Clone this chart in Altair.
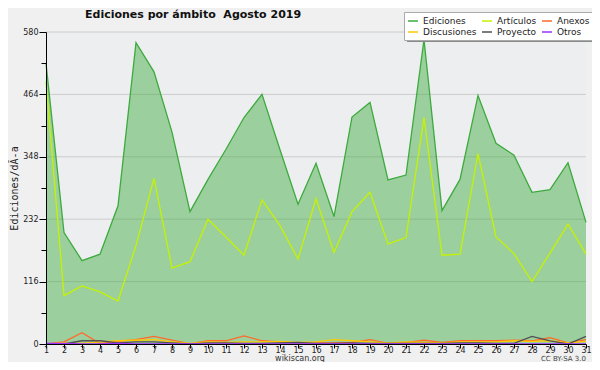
import altair as alt
import pandas as pd

days = list(range(1, 32))
ediciones = [522, 207, 155, 167, 257, 560, 506, 394, 246, 306, 362, 421, 464, 361, 260, 336,
             237, 422, 449, 305, 314, 566, 248, 306, 462, 373, 351, 282, 287, 337, 226]
articulos = [488, 90, 108, 97, 80, 183, 308, 141, 153, 232, 199, 165, 268, 220, 158, 270,
             170, 246, 282, 186, 198, 421, 165, 167, 354, 199, 168, 116, 169, 223, 167]
anexos = [0, 4, 21, 1, 5, 8, 14, 7, 0, 6, 6, 15, 6, 4, 2, 2, 2, 3, 8, 1, 3, 7, 3, 6, 6, 6, 7, 6, 12, 2, 8]
discusiones = [0, 2, 1, 4, 6, 7, 8, 4, 1, 4, 3, 4, 4, 5, 3, 4, 8, 6, 4, 2, 4, 3, 2, 4, 4, 4, 6, 5, 6, 2, 5]
proyecto = [0, 0, 6, 6, 2, 4, 4, 2, 0, 2, 2, 1, 1, 2, 3, 1, 1, 2, 1, 1, 1, 1, 1, 2, 2, 1, 1, 14, 6, 0, 14]
otros = [1, 1, 0, 0, 1, 0, 0, 0, 0, 0, 0, 0, 0, 0, 0, 0, 0, 0, 0, 0, 0, 0, 0, 0, 0, 0, 0, 0, 0, 0, 0]

series_names = ["Ediciones", "Artículos", "Anexos", "Discusiones", "Proyecto", "Otros"]
series_colors = ["#3DAA3D", "#C6F200", "#FF6A2A", "#FFC800", "#505050", "#9B30FF"]
series_values = [ediciones, articulos, anexos, discusiones, proyecto, otros]

grid_values = [116, 232, 348, 464, 580]
y_ticks = list(range(0, 581, 58))

title_text = "Ediciones por ámbito\u00a0 Agosto 2019"
y_title = "Ediciones/dÃ-a"
footer = "wikiscan.org"
license_text = "CC BY-SA 3.0"

rows = []
for name, vals in zip(series_names, series_values):
    for d, v in zip(days, vals):
        rows.append({"day": d, "value": v, "serie": name})
long_df = pd.DataFrame(rows)
ed_df = pd.DataFrame({"day": days, "value": ediciones})
grid_df = pd.DataFrame({"g": grid_values})

x_scale = alt.Scale(domain=[1, 31], nice=False, zero=False)
y_scale = alt.Scale(domain=[0, 580], nice=False)

FONT = "DejaVu Sans"
W = 540

y_axis = alt.Axis(
    values=y_ticks,
    labelExpr="datum.value % 116 === 0 ? datum.label : ''",
    tickSize={"condition": {"test": "datum.value % 116 === 0", "value": 7}, "value": 5},
    tickColor="black",
    domainColor="black",
    labelFont=FONT,
    labelFontSize=8,
    labelColor="#222222",
    labelPadding=1,
    grid=False,
    title=y_title,
    titleFont="DejaVu Sans Mono",
    titleFontSize=10,
    titleFontWeight="normal",
    titleColor="#222222",
    titleAngle=270,
    titleBaseline="alphabetic",
    titleX=-29,
    titleY=156,
    zindex=1,
)
x_axis = alt.Axis(
    values=days,
    format="d",
    tickSize=4,
    tickColor="black",
    domainColor="black",
    labelFont=FONT,
    labelFontSize=8,
    labelColor="#222222",
    labelPadding=-2,
    labelFlush=False,
    labelOverlap=False,
    grid=False,
    title=None,
    zindex=1,
)

grid = alt.Chart(grid_df).mark_rule(color="#CCCCCC", strokeWidth=1).encode(
    y=alt.Y("g:Q", scale=y_scale, axis=y_axis)
)

area = alt.Chart(ed_df).mark_area(color="#3DAA3D", opacity=0.46).encode(
    x=alt.X("day:Q", scale=x_scale, axis=x_axis),
    y=alt.Y("value:Q", scale=y_scale, axis=y_axis),
)

lines = alt.Chart(long_df).mark_line(strokeWidth=1.3).encode(
    x=alt.X("day:Q", scale=x_scale, axis=x_axis),
    y=alt.Y("value:Q", scale=y_scale, axis=y_axis),
    color=alt.Color(
        "serie:N",
        scale=alt.Scale(domain=series_names, range=series_colors),
        sort=series_names,
        legend=alt.Legend(
            orient="none",
            legendX=358,
            legendY=-20,
            columns=3,
            direction="horizontal",
            symbolType="stroke",
            symbolSize=100,
            symbolStrokeWidth=1.5,
            labelFont=FONT,
            labelFontSize=9,
            labelColor="#222222",
            labelOffset=4,
            columnPadding=2,
            rowPadding=0,
            padding=3,
            fillColor="white",
            strokeColor="#AAAAAA",
            title=None,
        ),
    ),
    detail="serie:N",
)

shadow = alt.Chart(pd.DataFrame({"s": [1]})).mark_rect(color="#8A8A8A").encode(
    x=alt.value(361), x2=alt.value(546), y=alt.value(-17), y2=alt.value(10)
)

title = alt.Chart(pd.DataFrame({"t": [title_text]})).mark_text(
    font=FONT, fontSize=11, fontWeight="bold", align="left", baseline="alphabetic", color="#111111"
).encode(text="t:N", x=alt.value(39), y=alt.value(-14))

foot = alt.Chart(pd.DataFrame({"t": [footer]})).mark_text(
    font=FONT, fontSize=8, align="center", baseline="alphabetic", color="#333333"
).encode(text="t:N", x=alt.value(254), y=alt.value(328.5))

lic = alt.Chart(pd.DataFrame({"t": [license_text]})).mark_text(
    font=FONT, fontSize=7, align="right", baseline="alphabetic", color="#444444"
).encode(text="t:N", x=alt.value(W), y=alt.value(329))

chart = alt.layer(grid, area, lines, shadow, title, foot, lic).properties(
    width=W,
    height=312,
    autosize=alt.AutoSizeParams(type="none"),
    padding={"left": 38, "top": 24, "right": 6, "bottom": 18},
    background="#F0F0F0",
).configure_view(fill="#EDEEF0", stroke=None)

chart.save("out.html", embed_options={"renderer": "svg", "actions": False})
